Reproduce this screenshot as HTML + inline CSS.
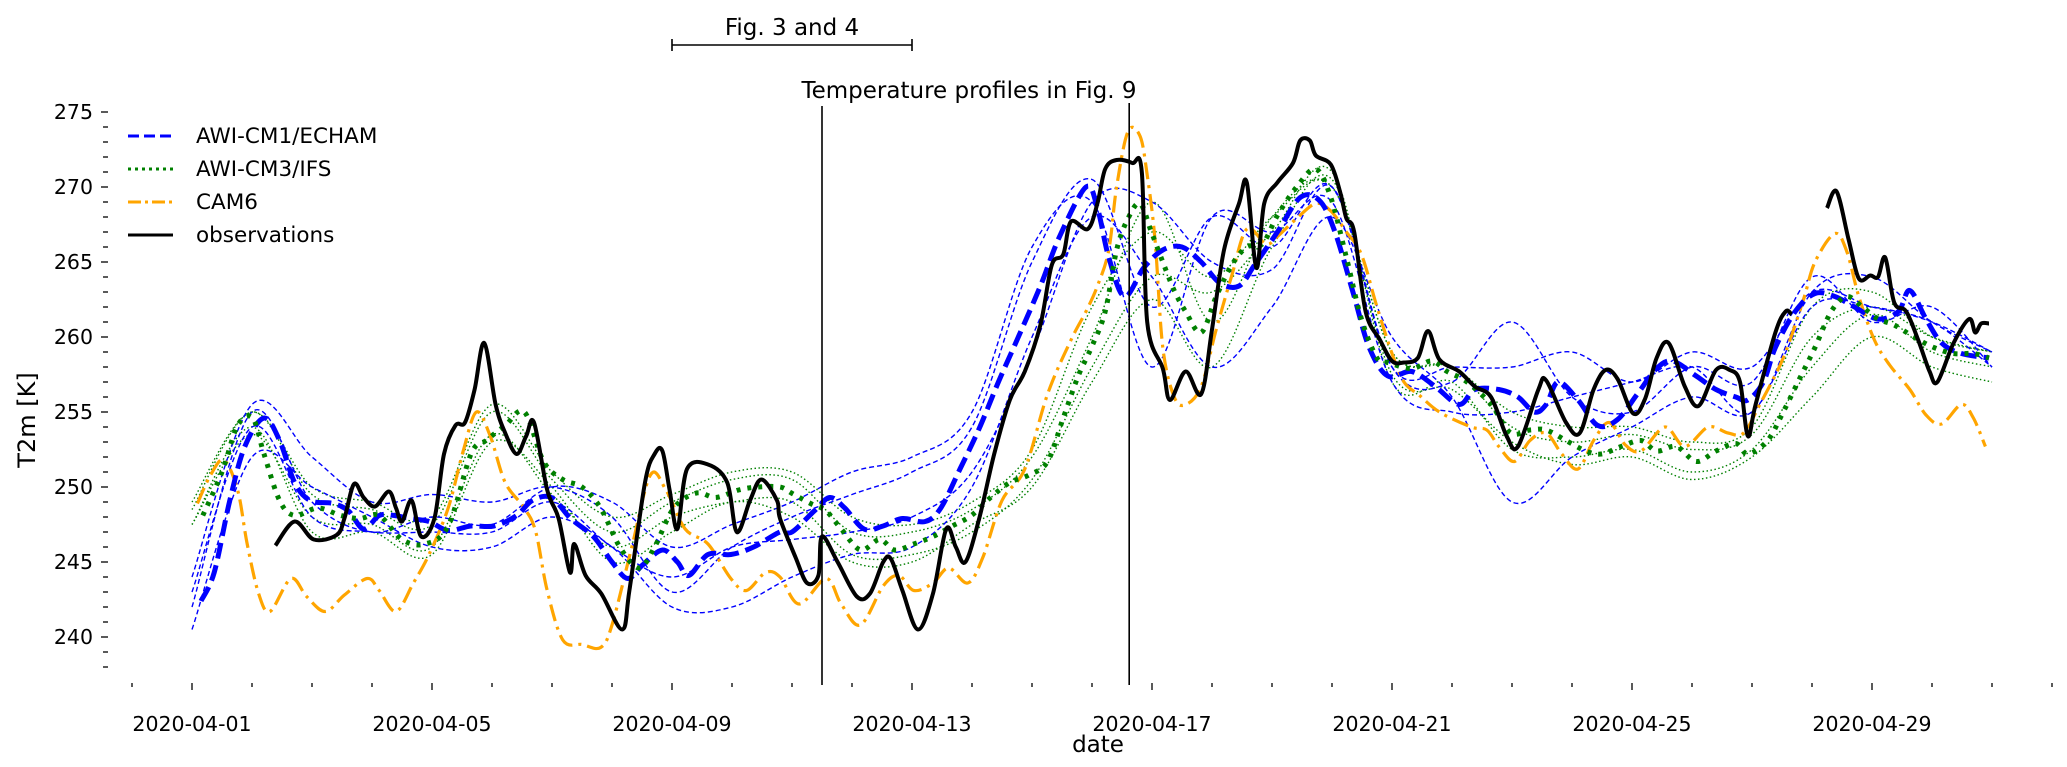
<!DOCTYPE html>
<html><head><meta charset="utf-8">
<style>
html,body{margin:0;padding:0;background:#fff;}
svg{display:block;font-family:"DejaVu Sans","Liberation Sans",sans-serif;}
</style></head>
<body>
<svg id="chart" width="2067" height="767" viewBox="0 0 2067 767" xmlns="http://www.w3.org/2000/svg">
<g id="axes"></g>
<g id="series"></g>
<g id="annot"></g>
<g id="legend"></g>
</svg>
<script>
// ---- data (day offset from 2020-04-01, temperature in K) ----
const xTickLabels = ["2020-04-01","2020-04-05","2020-04-09","2020-04-13","2020-04-17","2020-04-21","2020-04-25","2020-04-29"];
const yTickValues = [240,245,250,255,260,265,270,275];
const markerDays = [10.5, 15.62];
const figBracketDays = [8, 12];

const obsDays = [1.39,1.71,2.03,2.41,2.54,2.70,2.86,3.05,3.28,3.40,3.5,3.66,3.82,4.04,4.2,4.39,4.55,4.71,4.87,5.06,5.22,5.41,5.57,5.70,5.92,6.11,6.30,6.37,6.56,6.82,7.17,7.29,7.55,7.71,7.84,7.96,8.09,8.25,8.60,8.92,9.08,9.3,9.49,9.75,9.8,10.06,10.25,10.44,10.5,10.76,11.08,11.3,11.52,11.65,11.84,12.1,12.35,12.57,12.73,12.89,13.12,13.37,13.63,13.88,14.14,14.33,14.52,14.65,14.93,15.09,15.22,15.41,15.67,15.83,15.92,16.18,16.3,16.56,16.82,17.0,17.2,17.45,17.58,17.74,17.87,18.09,18.35,18.47,18.63,18.73,18.98,19.14,19.24,19.37,19.56,19.8,20.0,20.2,20.43,20.6,20.79,21.12,21.38,21.65,21.91,22.1,22.44,22.57,22.9,23.13,23.36,23.56,23.76,24.02,24.22,24.41,24.61,24.88,25.11,25.4,25.63,25.8,25.93,26.06,26.39,26.56,26.66,26.9,27.25,27.41,27.61,27.78,27.97,28.1,28.22,28.37,28.57,28.77,28.96,29.09,29.36,29.62,29.72,29.82,29.95];
const obsValues = [246.1,247.7,246.5,246.8,247.9,250.2,249.3,248.7,249.7,248.6,247.7,249.1,246.7,247.9,252.2,254.1,254.3,256.5,259.6,255.5,253.6,252.2,253.4,254.3,249.8,247.9,244.3,246.2,244.1,242.9,240.5,243.1,250.3,252.2,252.4,249.8,247.2,251.2,251.5,250.3,247.0,249.1,250.5,249.1,247.9,245.3,243.6,244.1,246.7,245.0,242.7,242.9,245.0,245.2,243.1,240.5,242.9,247.2,246.0,245.0,247.9,252.2,255.8,257.7,260.8,264.8,265.5,267.7,267.2,268.9,271.2,271.8,271.6,271.0,261.0,257.9,255.8,257.7,256.2,260.5,265.8,268.9,270.3,264.6,268.9,270.3,271.6,273.1,273.1,272.1,271.5,269.6,267.9,267.0,261.7,259.8,258.4,258.3,258.6,260.4,258.5,257.7,256.7,256.0,253.4,252.7,256.5,257.1,254.3,253.6,256.5,257.8,257.2,254.9,255.9,258.6,259.6,256.7,255.4,257.8,257.8,257.0,253.4,255.5,260.3,261.7,261.5,null,268.6,269.7,266.5,263.9,264.1,264.0,265.3,262.3,261.7,259.8,257.7,257.0,259.6,261.2,260.3,260.9,260.9];

const camDays = [0.09,0.31,0.53,0.76,0.92,1.11,1.30,1.65,1.91,2.22,2.54,2.92,3.12,3.40,3.69,3.95,4.27,4.52,4.74,4.97,5.22,5.54,5.73,5.92,6.18,6.5,6.81,7.0,7.33,7.64,7.90,8.22,8.6,8.98,9.24,9.56,9.8,10.12,10.57,10.82,11.14,11.52,11.78,12.03,12.35,12.61,12.93,13.18,13.5,13.88,14.26,14.65,14.9,15.09,15.28,15.41,15.6,15.8,15.92,16.05,16.18,16.37,16.56,16.82,17.07,17.33,17.58,17.9,18.09,18.41,18.73,18.98,19.24,19.49,19.75,20.0,20.2,20.46,20.79,21.32,21.58,21.78,22.04,22.3,22.57,22.83,23.1,23.36,23.62,23.89,24.15,24.55,24.88,25.27,25.6,25.86,26.13,26.52,26.85,27.05,27.38,27.58,27.78,28.04,28.3,28.63,28.9,29.16,29.49,29.69,29.89];
const camValues = [248.9,250.8,251.8,249.8,246.2,242.9,241.7,243.9,242.7,241.7,242.8,243.9,243.1,241.7,243.6,245.5,248.6,252.4,255.0,253.4,250.3,248.6,247.0,243.1,239.8,239.5,239.3,240.8,246.0,250.8,249.8,247.2,246.2,243.9,243.1,244.3,244.0,242.2,243.9,242.2,240.8,243.4,244.1,243.1,243.6,244.6,243.6,245.3,249.1,251.2,256.2,259.8,261.7,263.4,265.8,270.0,273.7,273.4,270.8,266.5,259.3,256.0,255.5,256.7,260.5,264.1,267.2,266.2,266.7,267.9,268.9,268.4,267.0,265.5,262.0,258.9,257.0,256.1,255.0,254.0,253.8,252.7,251.7,253.1,253.6,252.2,251.2,253.1,254.3,252.8,252.4,254.0,252.7,254.0,253.6,253.6,255.5,258.6,262.4,265.0,266.9,265.7,262.7,259.8,258.1,256.5,254.8,254.2,255.5,254.6,252.7];

const awi1MeanDays = [0.15,0.37,0.63,0.88,1.2,1.46,1.71,1.97,2.35,2.61,2.86,3.12,3.37,3.63,3.95,4.27,4.65,5.03,5.41,5.67,5.99,6.31,6.69,7.0,7.26,7.51,7.84,8.09,8.28,8.6,8.98,9.36,9.8,10.0,10.37,10.63,10.88,11.2,11.52,11.84,12.22,12.48,12.8,13.12,13.44,13.75,14.14,14.46,14.9,15.09,15.28,15.54,15.86,16.18,16.5,16.82,17.13,17.45,17.71,18.09,18.47,18.79,19.05,19.37,19.62,19.93,20.33,20.72,21.12,21.38,21.78,22.1,22.37,22.57,22.77,23.1,23.43,23.76,24.09,24.41,24.68,25.07,25.4,25.73,25.93,26.19,26.39,26.72,27.05,27.38,27.71,28.1,28.44,28.63,28.9,29.16,29.49,29.95];
const awi1MeanValues = [242.4,244.3,249.1,252.7,254.6,253.1,250.3,249.1,248.9,248.4,247.2,248.1,248.1,247.9,247.7,247.1,247.4,247.4,248.1,249.1,249.3,247.9,246.7,245.0,243.9,244.8,245.8,245.0,244.1,245.5,245.5,246.0,247.0,247.0,248.4,249.3,248.6,247.2,247.4,247.9,247.7,248.6,251.2,253.9,257.0,259.8,263.4,266.7,270.0,268.6,265.3,262.7,264.6,265.8,266.0,265.0,263.6,263.4,264.8,267.0,269.3,269.1,267.0,262.7,259.3,257.4,257.7,256.7,255.5,256.5,256.5,256.0,255.0,255.5,257.0,255.8,254.1,254.5,256.2,257.9,258.4,257.4,256.5,256.0,255.8,257.0,259.3,261.7,262.9,262.7,262.0,261.2,261.7,263.1,261.2,259.6,258.9,258.6];

const awi3MeanDays = [0.18,0.5,0.76,1.01,1.2,1.46,1.71,2.1,2.48,2.8,3.12,3.5,3.88,4.27,4.65,4.9,5.22,5.54,5.86,6.18,6.5,6.81,7.13,7.45,7.71,8.03,8.41,8.73,9.11,9.43,9.8,9.99,10.31,10.57,10.82,11.14,11.46,11.71,12.03,12.35,12.67,12.99,13.31,13.63,13.95,14.26,14.52,14.77,14.99,15.22,15.41,15.6,15.8,15.99,16.18,16.37,16.56,16.82,17.07,17.33,17.58,17.84,18.09,18.41,18.73,18.98,19.24,19.49,19.75,19.93,20.33,20.66,20.92,21.25,21.65,21.98,22.3,22.57,22.9,23.23,23.49,23.82,24.15,24.41,24.74,25.07,25.4,25.73,25.93,26.26,26.52,26.79,27.05,27.32,27.58,27.84,28.1,28.37,28.7,29.03,29.36,29.69,29.95];
const awi3MeanValues = [248.1,251.0,254.1,254.6,252.2,249.1,248.1,248.6,248.1,247.9,248.1,246.5,246.2,247.4,252.2,253.1,254.1,255.0,251.7,250.5,250.0,248.6,246.0,244.6,246.0,248.6,249.6,249.3,249.8,250.0,250.0,249.6,248.9,248.4,247.2,245.8,246.5,245.8,246.2,246.7,247.4,248.1,249.3,250.3,250.8,251.7,254.6,257.4,259.3,261.7,265.8,267.9,268.9,267.0,265.0,263.1,261.7,260.3,262.7,264.8,266.0,266.2,268.1,270.0,271.2,269.3,265.3,261.2,258.6,258.3,257.9,258.4,257.7,257.0,255.5,253.6,253.8,253.8,253.1,252.4,252.2,252.7,253.1,252.4,252.7,251.7,252.4,252.9,252.2,253.1,255.0,257.2,259.3,261.7,262.7,262.0,261.2,260.8,260.0,259.3,258.9,258.9,258.6];

// ensemble members, daily values for days 0..30
const awi1Member1 = [244,255.5,252,249,249.5,249,250,248,243,246,248,249.5,251,254,265,270.5,262,268,266,270,258,258,258,259,257,259,258,263,262,261,258];
const awi1Member2 = [240.5,252,250,248,246,246,248,246,242,242,244,245.5,246,250,260,268,264,258,262,268,260,256,249,252,254,256,255,262,262,261,259];
const awi1Member3 = [242,255,249,247,248,247.5,250,249,246,247.5,249,251,252,255,266,269,258,268,267,269,257,255,255,256,257,258,255,263,264,261,259];
const awi1Member4 = [243,254,248,247,247,247,249,246,244,246,246.5,247,248,251,259,269,269,265,264.5,270,258,257,261,256,255,258,257,264,261,262,258];
const awi3Member1 = [249,255,250,249,248,255.5,251,248,249.5,251,251,248,247.5,249,252.5,262,267,264,268,270,259,258,255,254,254,253,254,262,263,260,259];
const awi3Member2 = [247.5,254,247,247,245.5,253,250,245,247,249,248,245,245,247.5,250,257,262.5,258,266,270.5,257.5,256.5,253,251.5,252,250.5,252,256,260,258,257];
const awi3Member3 = [248.5,255,249.5,248.5,247.5,255,250.5,247,249,250.5,250.5,247,247,248.5,252,260,269,261,268,270,259,258,254,253,253.5,252.5,253.5,260,262,260,259];
const awi3Member4 = [247.5,253.5,248,247.5,246,253.5,249.5,246,248,249,249,245.5,245.5,247,250.5,258,264,263,267,271,257,257,252.5,252,252.5,251,252.5,258,261.5,259,258];

// ---- scales ----
const X0 = 192, PXD = 60;
const Y0 = 112, PXK = 15;
function xs(d){ return X0 + d*PXD; }
function ys(k){ return Y0 + (275-k)*PXK; }
const NS = "http://www.w3.org/2000/svg";
function mk(tag, attrs, parent){
  const e = document.createElementNS(NS, tag);
  for (const k in attrs) e.setAttribute(k, attrs[k]);
  parent.appendChild(e);
  return e;
}
function smoothPath(pts){
  if (pts.length < 2) return "";
  let d = "M" + pts[0][0].toFixed(1) + "," + pts[0][1].toFixed(1);
  for (let i=0;i<pts.length-1;i++){
    const p0 = pts[Math.max(0,i-1)], p1 = pts[i], p2 = pts[i+1], p3 = pts[Math.min(pts.length-1,i+2)];
    const c1x = p1[0]+(p2[0]-p0[0])/6, c1y = p1[1]+(p2[1]-p0[1])/6;
    const c2x = p2[0]-(p3[0]-p1[0])/6, c2y = p2[1]-(p3[1]-p1[1])/6;
    d += "C"+c1x.toFixed(1)+","+c1y.toFixed(1)+" "+c2x.toFixed(1)+","+c2y.toFixed(1)+" "+p2[0].toFixed(1)+","+p2[1].toFixed(1);
  }
  return d;
}
function segments(days, vals){
  const segs=[]; let cur=[];
  for (let i=0;i<days.length;i++){
    if (vals[i]===null){ if(cur.length) segs.push(cur); cur=[]; continue; }
    cur.push([xs(days[i]), ys(vals[i])]);
  }
  if (cur.length) segs.push(cur);
  return segs;
}
const axes = document.getElementById('axes');
const series = document.getElementById('series');
const annot = document.getElementById('annot');
const legend = document.getElementById('legend');

// y ticks
for (let k=238;k<=275;k++){
  const major = k%5===0;
  const t = mk('line',{x1: major?101:103, x2:108, y1:ys(k), y2:ys(k), stroke:'#000','stroke-width':1.3}, axes);
  
  
}
yTickValues.forEach(v=>{
  const t = mk('text',{x:93, y:ys(v)+7, 'text-anchor':'end','font-size':20.5, fill:'#000'}, axes);
  t.textContent = v;
  
  
});
const ylab = mk('text',{x:0,y:0,'text-anchor':'middle','font-size':24,fill:'#000',transform:'translate(35,420) rotate(-90)'}, axes);
ylab.textContent = 'T2m [K]';



// x ticks
for (let d=-1; d<=31; d++){
  const major = (d>=0 && d%4===0 && d<=28);
  const t = mk('line',{x1:xs(d), x2:xs(d), y1:683, y2: major?690:687, stroke:'#000','stroke-width':1.3}, axes);
  
  
}
xTickLabels.forEach((lab,i)=>{
  const t = mk('text',{x:xs(i*4), y:731, 'text-anchor':'middle','font-size':20.5, fill:'#000'}, axes);
  t.textContent = lab;
  
  
});
const xlab = mk('text',{x:1098,y:752,'text-anchor':'middle','font-size':23,fill:'#000'}, axes);
xlab.textContent = 'date';



// series
const dayIdx = awi1Member1.map((_,i)=>i);
function drawCurve(days, vals, style, name){
  segments(days, vals).forEach(seg=>{
    const p = mk('path', Object.assign({d:smoothPath(seg), fill:'none'}, style), series);
    
    
  });
}
const blueThin = {stroke:'#0000ff','stroke-width':1.4,'stroke-dasharray':'5 3'};
const greenThin = {stroke:'#008000','stroke-width':1.4,'stroke-dasharray':'1.5 2.5'};
drawCurve(dayIdx, awi3Member1, greenThin, 'awi-cm3-member-line');
drawCurve(dayIdx, awi3Member2, greenThin, 'awi-cm3-member-line');
drawCurve(dayIdx, awi3Member3, greenThin, 'awi-cm3-member-line');
drawCurve(dayIdx, awi3Member4, greenThin, 'awi-cm3-member-line');
drawCurve(dayIdx, awi1Member1, blueThin, 'awi-cm1-member-line');
drawCurve(dayIdx, awi1Member2, blueThin, 'awi-cm1-member-line');
drawCurve(dayIdx, awi1Member3, blueThin, 'awi-cm1-member-line');
drawCurve(dayIdx, awi1Member4, blueThin, 'awi-cm1-member-line');
drawCurve(camDays, camValues, {stroke:'#ffa500','stroke-width':3.2,'stroke-dasharray':'17 6 3 6'}, 'cam6-line');
drawCurve(awi1MeanDays, awi1MeanValues, {stroke:'#0000ff','stroke-width':5,'stroke-dasharray':'16 7'}, 'awi-cm1-mean-line');
drawCurve(awi3MeanDays, awi3MeanValues, {stroke:'#008000','stroke-width':5,'stroke-dasharray':'4 7'}, 'awi-cm3-mean-line');
drawCurve(obsDays, obsValues, {stroke:'#000','stroke-width':4,'stroke-linejoin':'round'}, 'observations-line');

// annotations
markerDays.forEach((d,i)=>{
  const l = mk('line',{x1:xs(d),x2:xs(d),y1: i===0?106:103,y2:685,stroke:'#000','stroke-width':1.6}, annot);
  
  
});
const tp = mk('text',{x:969,y:98,'text-anchor':'middle','font-size':23,fill:'#000'}, annot);
tp.textContent = 'Temperature profiles in Fig. 9';


const bx1 = xs(figBracketDays[0]), bx2 = xs(figBracketDays[1]);
const br = mk('path',{d:`M${bx1},39 V51 M${bx1},45 H${bx2} M${bx2},39 V51`,stroke:'#000','stroke-width':1.6,fill:'none'}, annot);


const ft = mk('text',{x:(bx1+bx2)/2,y:35,'text-anchor':'middle','font-size':23,fill:'#000'}, annot);
ft.textContent = 'Fig. 3 and 4';



// legend
const legItems = [
  ['AWI-CM1/ECHAM',{stroke:'#0000ff','stroke-width':3,'stroke-dasharray':'11 5'}],
  ['AWI-CM3/IFS',{stroke:'#008000','stroke-width':3,'stroke-dasharray':'3 4'}],
  ['CAM6',{stroke:'#ffa500','stroke-width':3,'stroke-dasharray':'13 4 3 4'}],
  ['observations',{stroke:'#000','stroke-width':3}]
];
legItems.forEach((it,i)=>{
  const y = 136 + i*33;
  const g = mk('g',{}, legend);
  
  
  mk('line', Object.assign({x1:128,x2:173,y1:y,y2:y}, it[1]), g);
  const t = mk('text',{x:196,y:y+7,'font-size':21.5,fill:'#000'}, g);
  t.textContent = it[0];
});
</script>
</body></html>
